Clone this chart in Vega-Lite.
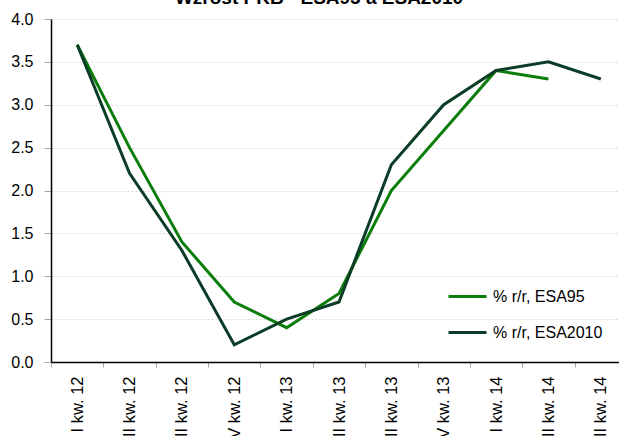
{
  "$schema": "https://vega.github.io/schema/vega-lite/v6.json",
  "autosize": "none",
  "padding": {"left": 51, "top": 19, "right": 0, "bottom": 74},
  "width": 568,
  "height": 343,
  "background": "white",
  "title": {
    "text": "Wzrost PKB - ESA95 a ESA2010",
    "font": "Liberation Sans",
    "fontSize": 19,
    "fontWeight": "bold",
    "color": "#000000",
    "anchor": "middle",
    "frame": "group",
    "baseline": "alphabetic",
    "dx": -16,
    "offset": -12
  },
  "data": {
    "values": [
      {"q": "I kw. 12", "series": "% r/r, ESA95", "value": 3.7},
      {"q": "II kw. 12", "series": "% r/r, ESA95", "value": 2.5},
      {"q": "III kw. 12", "series": "% r/r, ESA95", "value": 1.4},
      {"q": "IV kw. 12", "series": "% r/r, ESA95", "value": 0.7},
      {"q": "I kw. 13", "series": "% r/r, ESA95", "value": 0.4},
      {"q": "II kw. 13", "series": "% r/r, ESA95", "value": 0.8},
      {"q": "III kw. 13", "series": "% r/r, ESA95", "value": 2.0},
      {"q": "IV kw. 13", "series": "% r/r, ESA95", "value": 2.7},
      {"q": "I kw. 14", "series": "% r/r, ESA95", "value": 3.4},
      {"q": "II kw. 14", "series": "% r/r, ESA95", "value": 3.3},
      {"q": "I kw. 12", "series": "% r/r, ESA2010", "value": 3.7},
      {"q": "II kw. 12", "series": "% r/r, ESA2010", "value": 2.2},
      {"q": "III kw. 12", "series": "% r/r, ESA2010", "value": 1.3},
      {"q": "IV kw. 12", "series": "% r/r, ESA2010", "value": 0.2},
      {"q": "I kw. 13", "series": "% r/r, ESA2010", "value": 0.5},
      {"q": "II kw. 13", "series": "% r/r, ESA2010", "value": 0.7},
      {"q": "III kw. 13", "series": "% r/r, ESA2010", "value": 2.3},
      {"q": "IV kw. 13", "series": "% r/r, ESA2010", "value": 3.0},
      {"q": "I kw. 14", "series": "% r/r, ESA2010", "value": 3.4},
      {"q": "II kw. 14", "series": "% r/r, ESA2010", "value": 3.5},
      {"q": "III kw. 14", "series": "% r/r, ESA2010", "value": 3.3}
    ]
  },
  "mark": {"type": "line", "strokeWidth": 3, "clip": false},
  "encoding": {
    "x": {
      "field": "q",
      "type": "ordinal",
      "sort": ["I kw. 12", "II kw. 12", "III kw. 12", "IV kw. 12", "I kw. 13", "II kw. 13", "III kw. 13", "IV kw. 13", "I kw. 14", "II kw. 14", "III kw. 14"],
      "scale": {"type": "band", "paddingInner": 0, "paddingOuter": 0, "range": [0, 576]},
      "axis": {
        "title": null,
        "labelAngle": -90,
        "labelAlign": "right",
        "labelBaseline": "middle",
        "labelFont": "Liberation Sans",
        "labelFontSize": 16.5,
        "labelColor": "#000000",
        "labelPadding": 9,
        "tickBand": "extent",
        "tickSize": 5,
        "tickColor": "#a6a6a6",
        "domainColor": "#000000",
        "domainWidth": 1.5,
        "grid": false,
        "labelOverlap": false
      }
    },
    "y": {
      "field": "value",
      "type": "quantitative",
      "scale": {"domain": [0, 4], "nice": false, "zero": true},
      "axis": {
        "title": null,
        "values": [0, 0.5, 1, 1.5, 2, 2.5, 3, 3.5, 4],
        "format": ".1f",
        "labelFont": "Liberation Sans",
        "labelFontSize": 16,
        "labelColor": "#000000",
        "labelPadding": 11,
        "tickSize": 7,
        "tickColor": "#a6a6a6",
        "domainColor": "#000000",
        "domainWidth": 1.5,
        "grid": true,
        "gridColor": "#d9d9d9",
        "gridDash": [2, 2],
        "gridWidth": 1
      }
    },
    "color": {
      "field": "series",
      "type": "nominal",
      "sort": ["% r/r, ESA95", "% r/r, ESA2010"],
      "scale": {"domain": ["% r/r, ESA95", "% r/r, ESA2010"], "range": ["#0a7d0a", "#0b3d26"]},
      "legend": {
        "title": null,
        "orient": "none",
        "legendX": 396,
        "legendY": 257,
        "symbolType": "stroke",
        "symbolSize": 1444,
        "symbolStrokeWidth": 3,
        "labelFont": "Liberation Sans",
        "labelFontSize": 16,
        "labelColor": "#000000",
        "labelOffset": 5,
        "rowPadding": 7,
        "padding": 0
      }
    }
  },
  "config": {"view": {"stroke": null}}
}
